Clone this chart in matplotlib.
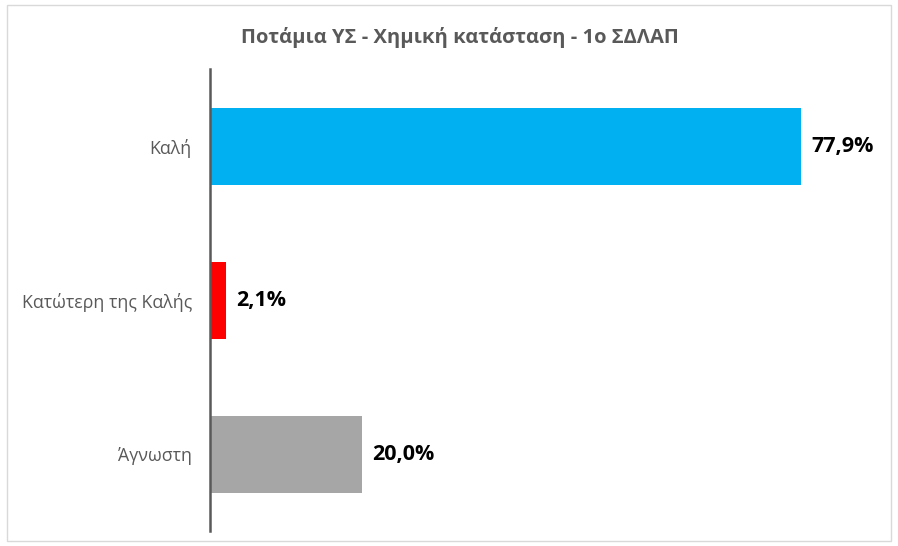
import matplotlib
matplotlib.use("Agg")
import matplotlib.pyplot as plt
from matplotlib.patches import Rectangle

categories = ["Καλή", "Κατώτερη της Καλής", "Άγνωστη"]
values = [77.9, 2.1, 20.0]
labels = ["77,9%", "2,1%", "20,0%"]
colors = ["#00B0F0", "#FF0000", "#A6A6A6"]
title = "Ποτάμια ΥΣ - Χημική κατάσταση - 1ο ΣΔΛΑΠ"

plt.rcParams['font.family'] = ['Open Sans', 'DejaVu Sans']

W, H = 898, 546
fig = plt.figure(figsize=(W/100, H/100), dpi=100)
ax = fig.add_axes([210/W, 15/H, 670/W, 462/H])

y = list(range(len(categories)))
ax.barh(y, values, height=0.5, color=colors)
ax.set_xlim(0, 670/7.587)
ax.set_ylim(len(categories)-0.5, -0.5)
ax.set_yticks(y)
ax.set_yticklabels(categories, fontsize=12.8, color="#595959")
ax.tick_params(axis='y', length=0, pad=13)
ax.set_xticks([])
for s in ["top", "right", "bottom"]:
    ax.spines[s].set_visible(False)
ax.spines["left"].set_color("#595959")
ax.spines["left"].set_linewidth(1.8)

for yi, v, lab in zip(y, values, labels):
    ax.annotate(lab, (v, yi), xytext=(7.5, 0), textcoords="offset points",
                ha="left", va="center", fontsize=15.5, fontweight="bold", color="black")

fig.text(460/W, 1 - 37/H, title, ha="center", va="center",
         fontsize=14.5, fontweight="bold", color="#595959")

fig.patches.append(Rectangle((7/W, 5/H), 884/W, 536/H, transform=fig.transFigure,
                             fill=False, edgecolor="#D9D9D9", linewidth=1))

fig.savefig("out.png", dpi=100)
